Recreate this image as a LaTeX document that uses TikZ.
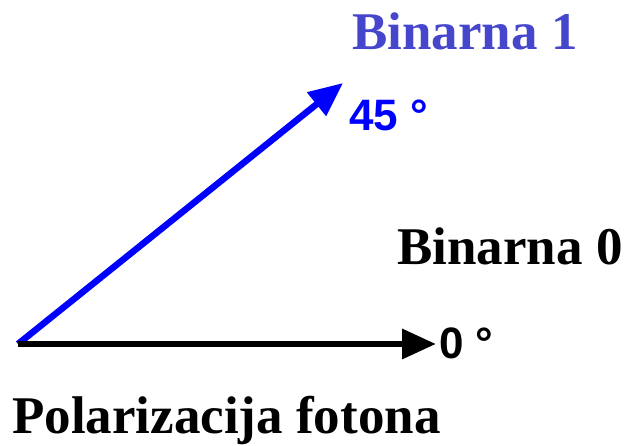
\documentclass[tikz,border=0pt]{standalone}
\usepackage{fontspec}
\setmainfont{Liberation Serif}
\newfontfamily\degfont{Liberation Sans}
\usepackage{xcolor}
\definecolor{bitone}{RGB}{70,70,205}
\usetikzlibrary{arrows.meta, positioning}

\begin{document}
\begin{tikzpicture}[x=1pt, y=1pt,
	vec/.style={line width=6.5pt, -{Triangle[length=34pt, width=29pt]}},
	lbl/.style={anchor=base west, inner sep=0pt, font=\fontsize{53}{57}\selectfont\bfseries},
	deg/.style={anchor=base west, inner sep=0pt, font=\fontsize{44}{48}\selectfont\degfont\bfseries}]
				\useasboundingbox (0,0) rectangle (624,446);

				% photon polarisation vectors
				\coordinate (o) at (18,102);
				\coordinate (tip45) at (343,363);
				\coordinate (tip0) at (436,102);
				\draw[vec, blue] (o) -- (tip45);
				\draw[vec, black] (o) -- (tip0);

				% Labels
				\node[lbl, text=bitone] (bin1) at (352,396) {Binarna 1};
				\node[deg, text=blue] (a45) at (349,315) {45 °};
				\node[lbl] (bin0) at (397,181) {Binarna 0};
				\node[deg] (a0) at (439,87) {0 °};
				\node[lbl] (title) at (12,12) {Polarizacija fotona};
			\end{tikzpicture}
\end{document}
